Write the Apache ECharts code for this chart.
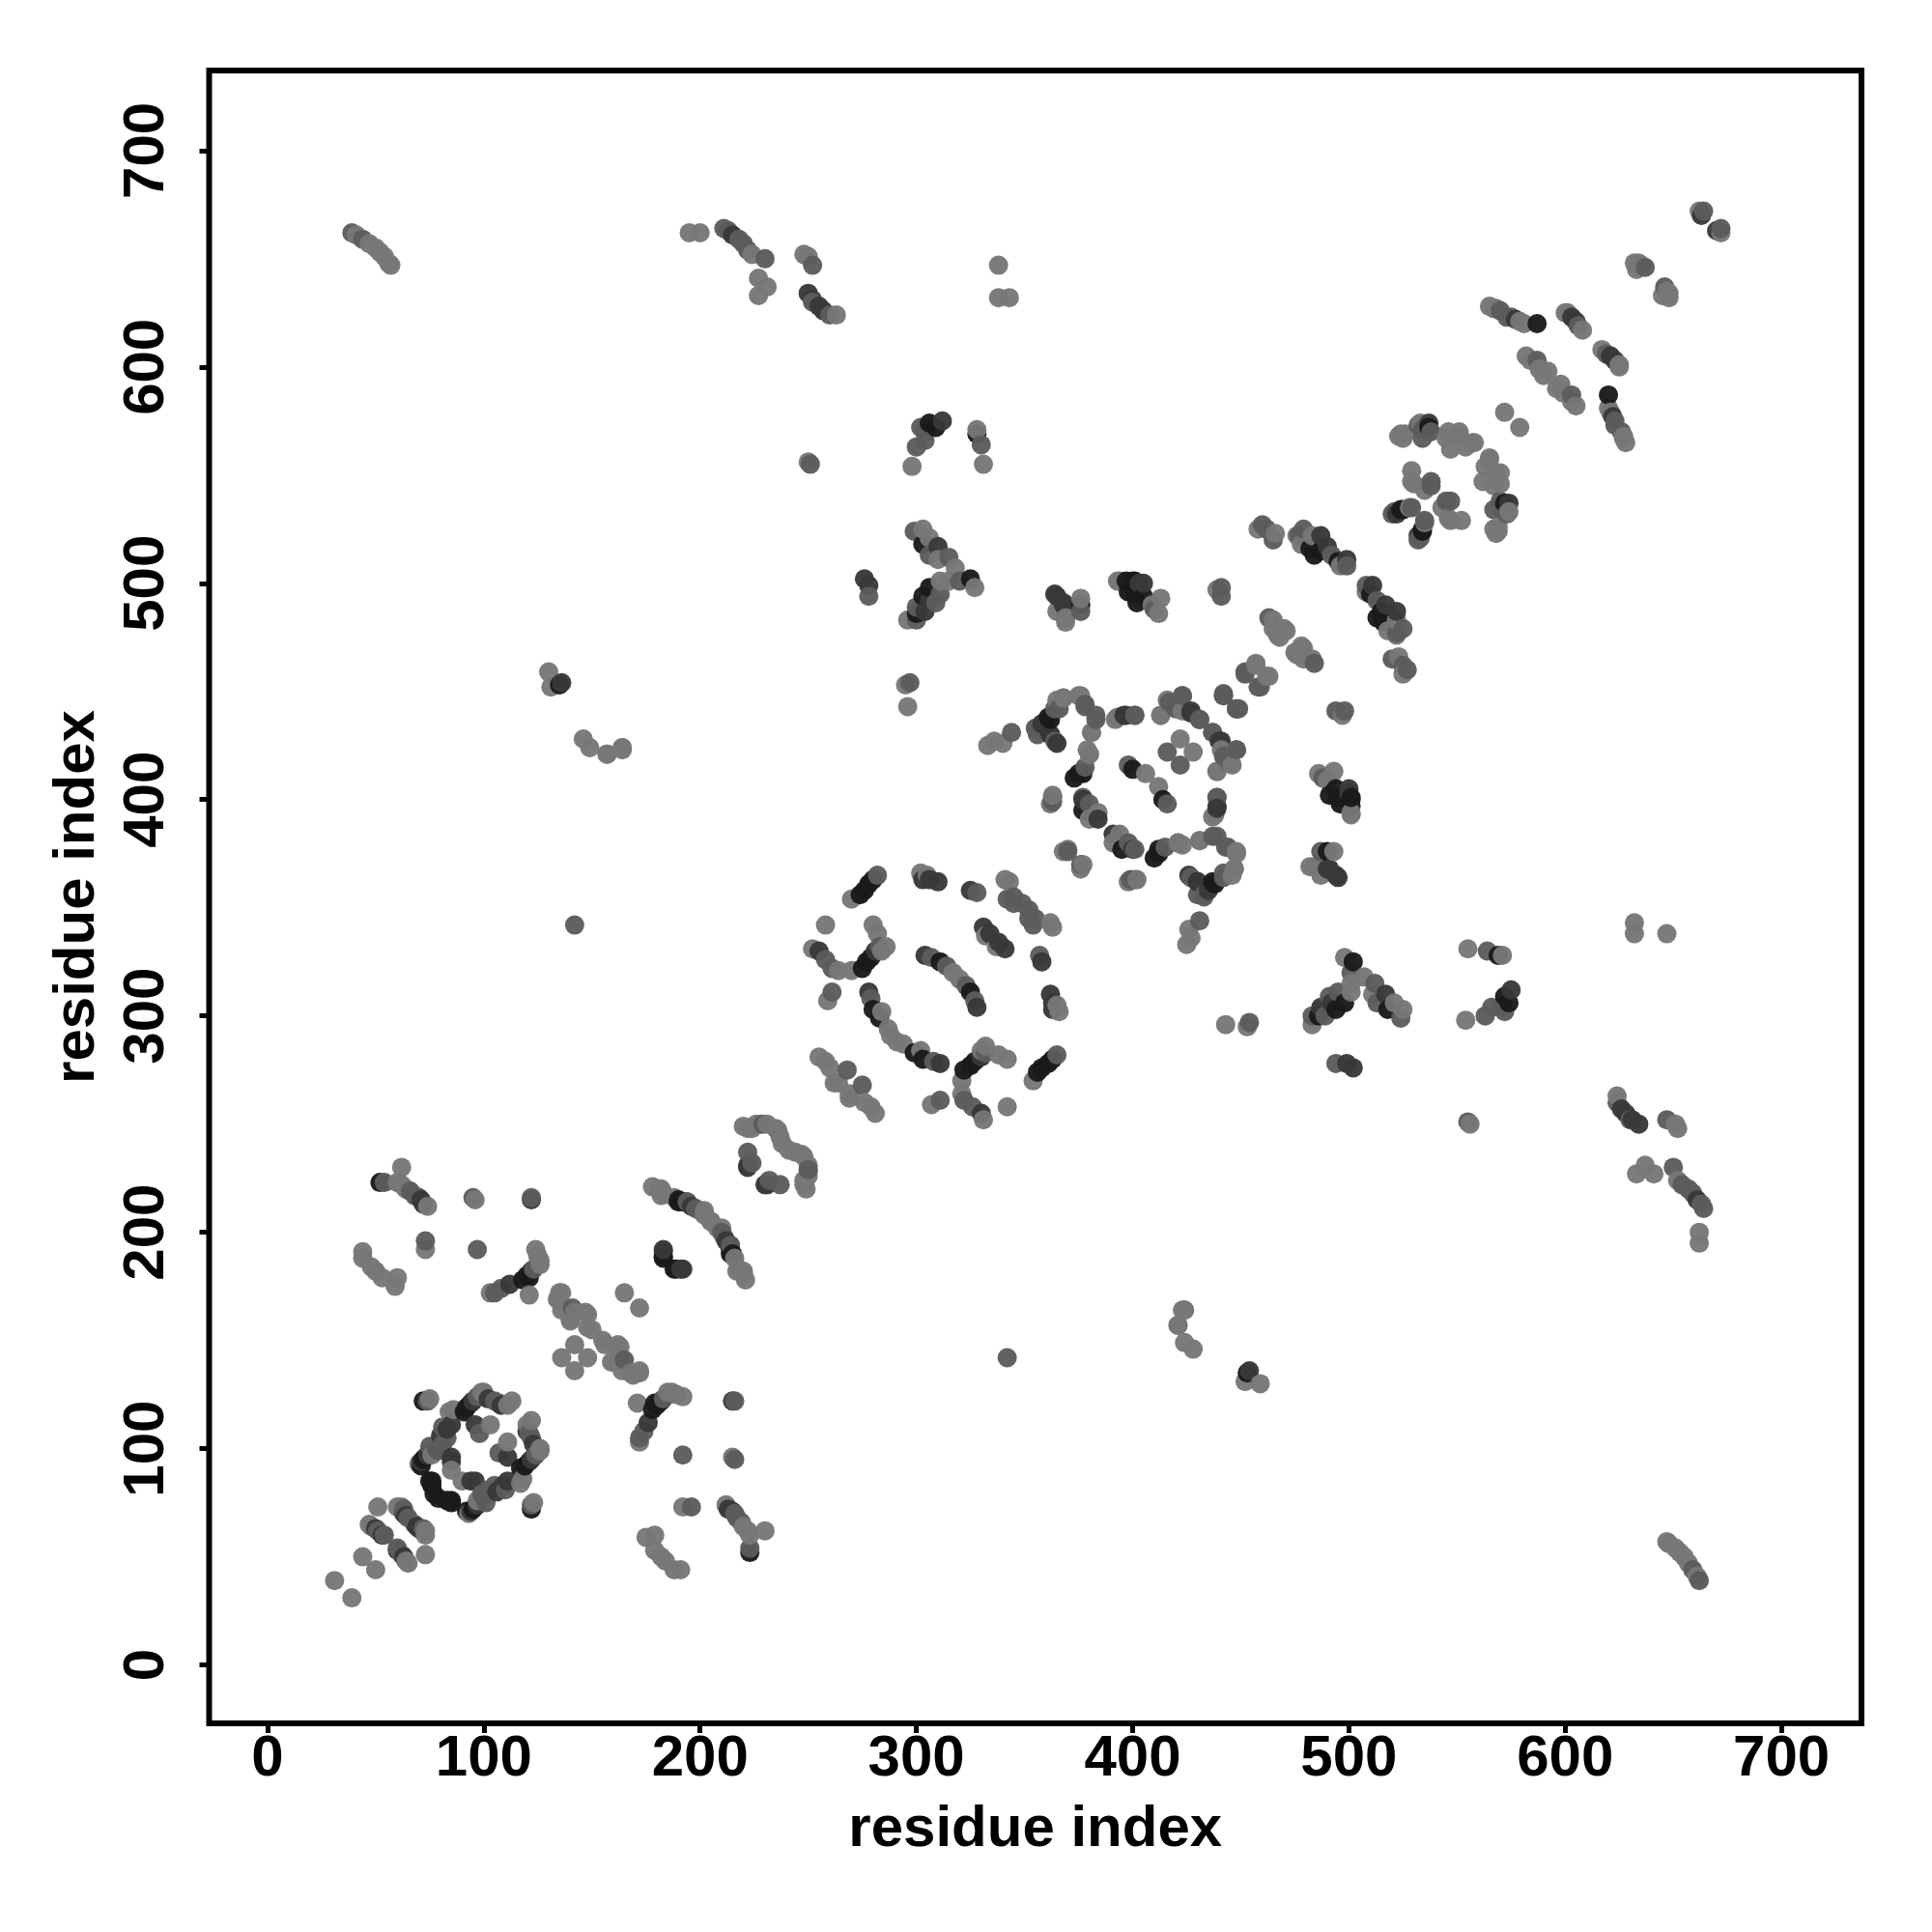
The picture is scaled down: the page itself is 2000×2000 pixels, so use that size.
<!DOCTYPE html>
<html>
<head>
<meta charset="utf-8">
<style>html,body{margin:0;padding:0;background:#fff}#c{width:2000px;height:2000px}</style>
<script src="https://cdn.jsdelivr.net/npm/echarts@6/dist/echarts.min.js"></script>
</head>
<body>
<div id="c"></div>
<script>
const L=119,M=92,D=56,K=26;
const tickValues=[0,100,200,300,400,500,600,700];
const axisTitle="residue index";
const helix1=[[31,39,L],[44,50,L],[51,73,L],[47,65,L],[48,64,L],[50,63,D],[51,62,M],[53,60,D],[54,60,M],[60,73,L],[62,73,L],[63,70,D],[63,72,M],[64,69,D],[65,68,M]];
const ring1=[[70,93,L],[71,92,K],[71,94,D],[72,95,K],[72,122,K],[73,96,K],[74,97,D],[74,122,M],[75,85,K],[75,101,M],[75,123,L],[76,83,K],[76,85,K],[77,79,K],[76,97,L],[78,100,M],[79,99,M],[80,106,D],[81,102,M],[81,110,M],[83,105,M],[83,109,D],[84,117,L],[85,111,D],[85,96,D],[85,94,D],[85,90,L],[86,118,L],[91,117,K],[92,119,K],[94,121,K],[95,122,D],[96,111,D],[97,124,M],[98,107,M],[99,126,L],[100,126,L],[102,123,D],[103,111,L],[105,122,M],[107,121,M],[108,120,D],[111,120,L],[113,122,L]];
const block1=[[52,223,K],[54,223,M],[60,223,L],[62,230,L],[62,222,L],[64,220,L],[66,219,M],[68,217,M],[70,216,M],[71,215,D],[72,213,D],[74,212,L],[95,216,M],[96,215,L],[122,215,D],[122,216,M],[73,192,L],[73,196,M],[97,192,M],[44,188,L],[44,191,L],[48,184,L],[50,182,L],[53,179,L],[59,175,L],[60,179,L],[103,172,L],[105,172,M],[108,174,M],[112,176,D],[118,178,K],[121,179,K],[120,180,K],[122,182,K],[121,171,L],[123,183,M],[124,192,L],[125,189,L],[126,187,L],[126,185,L]];
const diag1=[[134,169,L],[135,172,L],[136,164,L],[140,159,L],[142,163,L],[147,163,L],[148,156,L],[150,155,L],[148,162,L],[141,165,M],[165,172,L],[142,148,L],[136,142,L],[136,172,L],[135,168,L],[140,160,L]];
const block2=[[178,221,L],[181,220,L],[183,218,L],[188,216,L],[190,215,K],[192,214,K],[194,214,K],[196,212,D],[198,211,M],[202,210,L],[205,205,L],[208,202,L],[210,200,M],[214,190,K],[214,194,M],[217,182,L],[220,182,L],[183,188,K],[183,191,D],[189,183,K],[192,183,D],[222,230,D],[224,232,M],[222,231,D],[222,248,L],[226,250,L],[228,250,L],[231,250,L],[235,248,L],[237,244,L],[236,247,L],[238,241,L],[222,237,M],[220,249,L],[229,250,M],[224,248,L]];
const ring2=[[252,331,L],[255,330,D],[255,281,L],[258,326,M],[258,342,L],[258,279,L],[260,276,L],[259,307,L],[262,269,L],[261,311,M],[261,322,M],[264,269,L],[264,321,L],[268,275,M],[270,354,L],[270,321,L],[274,356,K],[275,322,K],[276,358,K],[277,325,K],[278,361,K],[279,327,K],[278,311,D],[279,308,M],[280,303,K],[280,363,K],[281,330,D],[280,342,L],[282,365,M],[283,332,M],[282,338,L],[284,330,L],[283,299,K],[284,302,L],[286,332,L],[287,294,L],[288,291,L],[302,366,L],[303,363,D],[305,365,L],[306,363,D],[310,362,D],[304,328,D],[307,327,M],[311,325,K],[314,323,M],[317,320,L],[325,358,D],[328,357,M],[331,341,D],[332,337,L],[334,338,D],[341,363,L],[343,362,L],[345,352,M],[349,352,M],[342,354,M],[345,355,M]];
const ring3=[[333,425,L],[336,427,L],[340,426,L],[344,431,M],[355,433,M],[356,430,M],[358,435,D],[361,438,K],[362,430,K],[364,427,M],[364,442,M],[365,446,L],[368,447,L],[375,448,L],[378,443,M],[383,437,M],[381,431,L],[393,438,L],[397,439,D],[401,439,M],[413,439,L],[416,446,L],[420,442,M],[423,448,L],[427,441,D],[431,437,M],[437,431,M],[440,427,D],[442,449,M],[448,442,M],[416,422,M],[422,428,L],[423,448,L],[441,423,L],[448,423,M],[445,417,M],[439,413,L],[373,410,K],[375,412,K],[378,415,M],[379,423,L],[380,421,L],[398,416,M],[400,414,K],[406,412,L],[363,401,M],[362,398,L],[377,401,M],[380,398,M],[377,395,K],[384,394,L],[384,391,D],[380,391,L],[368,376,L],[370,377,L],[370,376,M],[363,399,M],[363,402,L],[365,426,D],[362,430,D],[356,433,M],[362,437,K],[366,442,M],[368,447,L],[376,448,L],[378,444,M],[383,439,M],[381,431,L],[401,439,M],[396,439,D],[392,437,L],[377,400,D],[377,412,K],[380,421,L]];
const arms=[[364,495,D],[365,487,L],[368,491,D],[369,484,L],[369,482,L],[368,490,D],[365,494,D],[376,490,K],[376,487,M],[376,493,L],[393,501,L],[397,501,K],[400,501,K],[403,500,D],[401,495,K],[402,491,K],[405,494,K],[398,496,K],[394,501,L],[405,500,D],[401,501,K],[409,490,L],[410,488,M],[412,486,L],[413,493,L],[441,494,M],[441,498,M],[439,497,L]];
const band1=[[276,502,D],[278,499,D],[278,494,M],[295,453,L],[297,454,M],[296,443,L],[298,554,L],[300,563,M],[302,572,M],[304,566,M],[304,570,M],[306,574,K],[309,572,K],[312,575,D],[328,569,K],[328,571,L],[330,564,M],[331,555,L],[299,524,M],[303,518,K],[303,525,L],[306,521,L],[306,513,M],[310,517,D],[310,511,L],[315,512,M],[318,507,L],[320,501,M],[325,502,K],[327,498,L],[296,483,L],[300,483,M],[300,486,K],[300,489,M],[303,494,K],[304,487,D],[306,492,D],[306,498,K],[309,491,M],[311,495,M],[311,501,L],[315,501,L],[250,556,L],[251,555,M],[130,459,L],[131,452,L],[135,453,K],[136,454,D],[146,428,L],[149,424,L],[157,421,L],[164,424,L],[142,342,M],[164,424,L],[157,421,L],[423,164,L]];
const far=[[39,662,M],[41,661,L],[44,659,M],[47,657,L],[50,655,L],[52,653,L],[54,651,L],[56,648,L],[57,647,L],[195,662,L],[200,662,L],[211,664,M],[213,663,M],[215,661,D],[218,659,M],[220,657,M],[222,654,M],[224,652,L],[230,650,M],[227,641,L],[231,637,L],[227,633,L],[248,652,L],[250,651,L],[252,647,M],[250,634,D],[252,631,D],[252,630,M],[255,628,D],[257,626,D],[260,624,M],[263,624,L],[338,647,L],[338,632,L],[343,632,L]];
const tail=[[662,672,L],[663,670,D],[664,672,M],[632,648,L],[634,648,L],[633,645,L],[635,647,L],[637,646,M],[565,628,L],[568,627,L],[570,626,M],[573,623,M],[575,623,M],[577,622,D],[579,621,L],[581,620,L],[587,620,K],[567,627,L],[600,625,L],[601,625,L],[603,623,D],[605,621,D],[606,619,M],[608,617,L],[582,605,L],[584,603,L],[587,603,M],[588,599,L],[592,598,L],[590,596,L],[572,579,L],[524,569,L],[523,568,L],[532,573,M],[537,574,D],[538,570,M],[534,567,M],[545,567,L],[551,568,L],[557,565,L],[546,570,L],[551,570,L],[554,563,L],[558,565,L],[547,562,L],[537,572,K],[534,571,M],[533,574,L],[525,567,L],[526,569,L],[529,552,L],[529,547,L],[538,547,M],[535,543,L],[530,546,L],[538,545,M],[521,533,M],[522,532,D],[520,532,M],[525,534,K],[524,534,K],[528,535,L],[529,535,M]];
const arc=[[460,527,M],[462,525,M],[465,520,M],[466,523,L],[458,525,L],[476,522,L],[477,522,M],[478,518,L],[479,525,M],[482,516,K],[483,522,L],[484,513,K],[487,515,K],[487,522,D],[490,517,D],[492,513,M],[495,510,K],[496,508,L],[499,511,D],[499,508,M],[463,484,M],[465,483,L],[465,479,L],[470,479,L],[467,476,L],[471,478,L],[468,475,L],[457,463,L],[452,459,M],[457,462,L],[448,442,M],[452,458,M]];

const contacts=[helix1,ring1,block1,diag1,block2,ring2,ring3,arms,band1,far,tail,arc].flat();
const points=[];
contacts.forEach(c=>{points.push([c[0],c[1],c[2]]);points.push([c[1],c[0],c[2]]);});
points.sort((a,b)=>a[0]-b[0]);

const font='"Liberation Sans"';
const axisBase={type:'value',min:-27,max:737,splitLine:{show:false},axisLine:{show:false,onZero:false},
  axisTick:{show:true,length:10,lineStyle:{color:'#000',width:5},customValues:tickValues},
  name:axisTitle,nameLocation:'middle',nameMoveOverlap:false,
  nameTextStyle:{fontFamily:font,fontWeight:'bold',fontSize:60,color:'#000'}};
const chart=echarts.init(document.getElementById('c'),null,{renderer:'canvas'});
chart.setOption({
  animation:false,backgroundColor:'#fff',
  grid:{show:true,left:216.5,top:73,width:1710.5,height:1711,borderColor:'#000',borderWidth:6,backgroundColor:'#fff'},
  xAxis:Object.assign({},axisBase,{nameGap:80,
    axisLabel:{customValues:tickValues,margin:7,fontFamily:font,fontWeight:'bold',fontSize:60,color:'#000'}}),
  yAxis:Object.assign({},axisBase,{nameGap:106,
    axisLabel:{customValues:tickValues,margin:64,rotate:90,fontFamily:font,fontWeight:'bold',fontSize:60,color:'#000',verticalAlign:'middle',align:'center'}}),
  series:[{type:'scatter',symbol:'circle',symbolSize:20,data:points,
    itemStyle:{opacity:0.96,color:p=>{const s=p.value[2];return 'rgb('+s+','+s+','+s+')';}}}]
});
</script>
</body>
</html>
